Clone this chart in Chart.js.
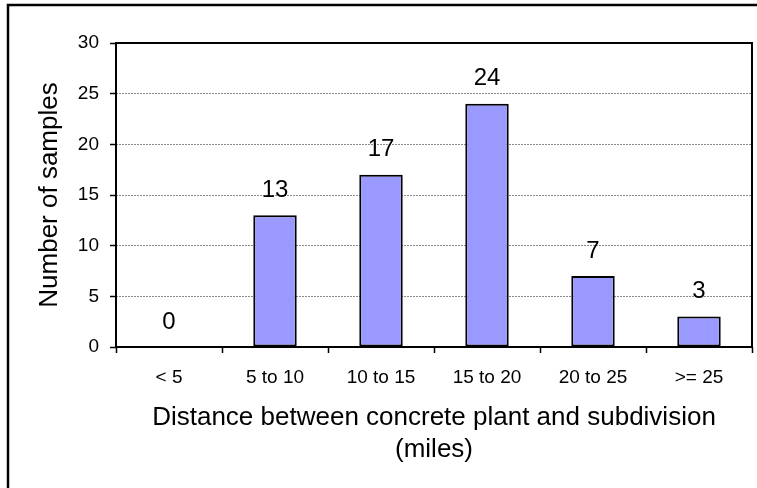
<!DOCTYPE html>
<html>
<head>
<meta charset="utf-8">
<script src="https://cdn.jsdelivr.net/npm/chart.js@4/dist/chart.umd.min.js"></script>
<style>
  html, body { margin: 0; padding: 0; background: #fff; }
  #wrap { width: 757px; height: 488px; position: relative; }
</style>
</head>
<body>
<div id="wrap"><canvas id="c" width="757" height="488"></canvas></div>
<script>
const categories = ['< 5', '5 to 10', '10 to 15', '15 to 20', '20 to 25', '>= 25'];
const sampleCounts = [0, 13, 17, 24, 7, 3];
const yTicks = [0, 5, 10, 15, 20, 25, 30];
const xTitle = ['Distance between concrete plant and subdivision', '(miles)'];
const yTitle = 'Number of samples';

const FONT = "'Liberation Sans', Arial, sans-serif";

const framePlugin = {
  id: 'frame',
  afterDatasetsDraw(chart) {
    const { ctx, chartArea: a } = chart;
    ctx.save();
    // data labels
    ctx.fillStyle = '#000';
    ctx.font = '24px ' + FONT;
    ctx.textAlign = 'center';
    ctx.textBaseline = 'middle';
    const meta = chart.getDatasetMeta(0);
    meta.data.forEach((bar, i) => {
      ctx.fillText(String(sampleCounts[i]), bar.x, bar.y - 25);
    });
    // plot border
    ctx.strokeStyle = '#000';
    ctx.lineWidth = 2;
    ctx.strokeRect(a.left, a.top, a.right - a.left, a.bottom - a.top);
    // outer chart frame (top and left visible)
    ctx.lineWidth = 2.5;
    ctx.beginPath();
    ctx.moveTo(8, 488);
    ctx.lineTo(8, 5);
    ctx.lineTo(757, 5);
    ctx.stroke();
    ctx.restore();
  }
};

new Chart(document.getElementById('c'), {
  type: 'bar',
  data: {
    labels: categories,
    datasets: [{
      data: sampleCounts,
      backgroundColor: '#9999FF',
      borderColor: '#000000',
      borderWidth: 2,
      borderSkipped: false,
      categoryPercentage: 1.0,
      barPercentage: 0.41
    }]
  },
  options: {
    responsive: false,
    animation: false,
    devicePixelRatio: 1,
    layout: { padding: { left: 0, right: 5, top: 43, bottom: 0 } },
    plugins: { legend: { display: false }, tooltip: { enabled: false } },
    scales: {
      x: {
        offset: true,
        grid: {
          offset: true,
          drawOnChartArea: false,
          drawTicks: true,
          tickLength: 6,
          tickColor: '#000',
          tickWidth: 1.5
        },
        border: { display: false },
        ticks: {
          color: '#000',
          font: { family: FONT, size: 19 },
          padding: 13,
          maxRotation: 0,
          autoSkip: false
        },
        title: {
          display: true,
          text: xTitle,
          color: '#000',
          font: { family: FONT, size: 26, lineHeight: 1.23 },
          padding: { top: 0, bottom: 22 }
        },
        afterFit(scale) { scale.height = 141; }
      },
      y: {
        min: 0,
        max: 30,
        afterBuildTicks(scale) { scale.ticks = yTicks.map(v => ({ value: v })); },
        grid: {
          color: (c) => (c.tick && (c.tick.value === 0 || c.tick.value === 30)) ? 'rgba(0,0,0,0)' : '#8a8a8a',
          lineWidth: 1,
          drawTicks: true,
          tickLength: 6,
          tickColor: '#000',
          tickWidth: 1.5,
          tickBorderDash: []
        },
        border: { display: false, dash: [2, 1] },
        ticks: {
          color: '#000',
          font: { family: FONT, size: 19 },
          padding: 11
        },
        title: {
          display: true,
          text: yTitle,
          color: '#000',
          font: { family: FONT, size: 26 },
          padding: { top: 34, bottom: 34 }
        },
        afterFit(scale) { scale.width = 116; }
      }
    }
  },
  plugins: [framePlugin]
});
</script>
</body>
</html>
